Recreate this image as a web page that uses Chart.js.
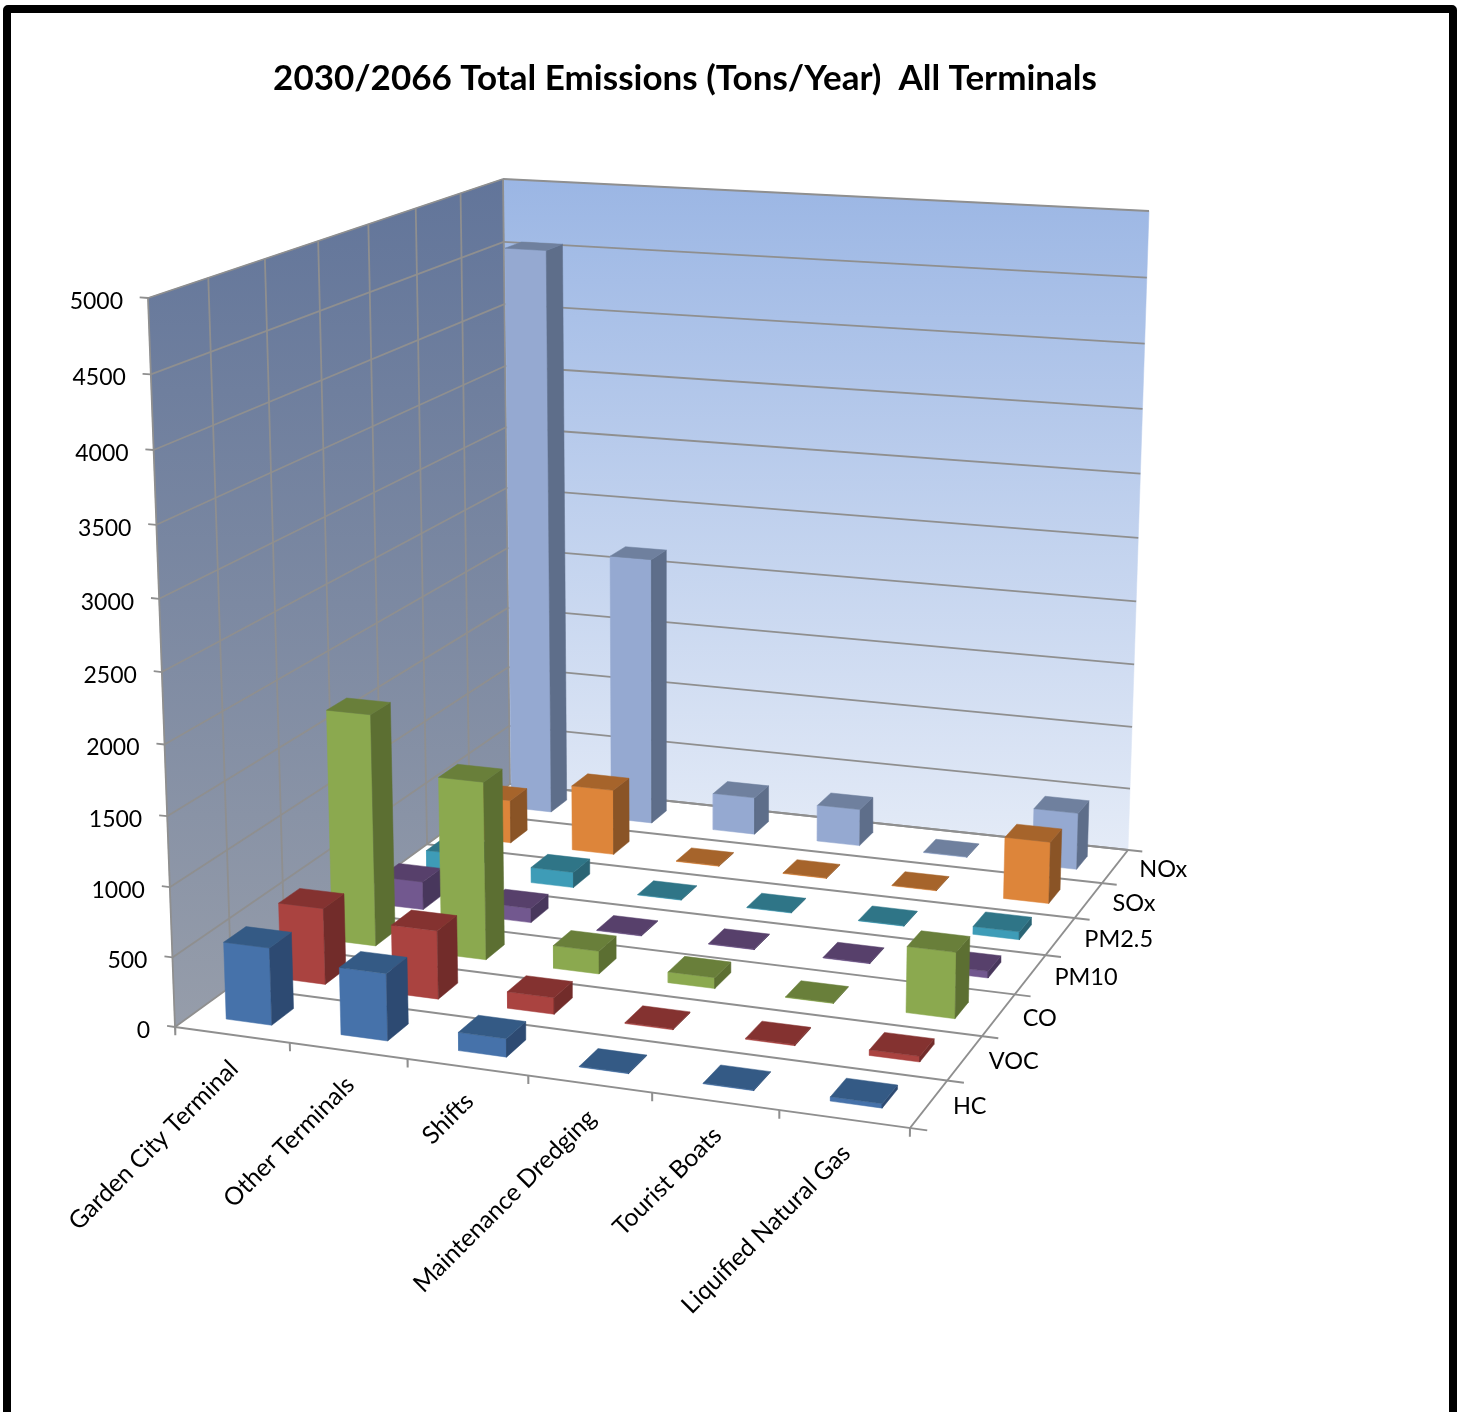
<!DOCTYPE html>
<html lang="en">
<head>
  <meta charset="UTF-8" />
  <title>2030/2066 Total Emissions</title>
  <script src="https://cdn.jsdelivr.net/npm/chart.js"></script>
  <style>
    html, body { margin: 0; padding: 0; background: #fff; overflow: hidden; }
    #wrap { position: relative; width: 1465px; height: 1412px; overflow: hidden; }
    #frame {
      position: absolute; left: 3px; top: 5px; width: 1438px; height: 1500px;
      border: 8px solid #000; border-radius: 5px; pointer-events: none;
    }
    canvas { display: block; }
  </style>
</head>
<body>
  <div id="wrap">
    <canvas id="chart" width="1465" height="1412"></canvas>
    <div id="frame"></div>
  </div>

  <script>
    // ── data ───────────────────────────────────────────────
    const categories = ['Garden City Terminal', 'Other Terminals', 'Shifts', 'Maintenance Dredging', 'Tourist Boats', 'Liquified Natural Gas'];
    const pollutants = ['HC', 'VOC', 'CO', 'PM10', 'PM2.5', 'SOx', 'NOx'];
    const valueTicks = [0, 500, 1000, 1500, 2000, 2500, 3000, 3500, 4000, 4500, 5000];

    const hc   = [555, 480, 130, 5, 5, 30];
    const voc  = [560, 500, 120, 8, 8, 40];
    const co   = [1735, 1325, 170, 80, 5, 480];
    const pm10 = [215, 110, 5, 5, 5, 50];
    const pm25 = [160, 120, 5, 5, 5, 60];
    const sox  = [345, 520, 5, 5, 5, 480];
    const nox  = [4550, 2160, 300, 295, 5, 450];
    const seriesValues = [hc, voc, co, pm10, pm25, sox, nox];

    // front, side, top
    const seriesColors = [
      ['#4672AA', '#2D4A72', '#345A85'],
      ['#AA4340', '#722C2A', '#843230'],
      ['#8BA94F', '#5C6F32', '#697F3A'],
      ['#72588F', '#48375C', '#57406B'],
      ['#3E9CB7', '#2A6474', '#2F7587'],
      ['#DD853A', '#8A5426', '#A6642B'],
      ['#95A9D1', '#5E6E8A', '#6F809E']
    ];

    const FONT = 'Lato, "Open Sans", sans-serif';
    const LINE = '#8f8f8f';
    const BAR_SIZE = 0.4;      // gap width 150%

    // ── projection: picture of the plot box corners → 3D camera ──
    const nCat = categories.length, nDepth = pollutants.length, valueMax = 5000;
    const floorFL = [175, 1027], floorFR = [910, 1128], floorBR = [1128, 850], floorBL = [510, 784];
    const topFL = [148, 298], topBL = [503, 179], topBR = [1149, 211];

    const camera = (() => {
      const [x0, y0] = floorFL, [x1, y1] = floorFR, [x2, y2] = floorBR, [x3, y3] = floorBL;
      const dx1 = x1 - x2, dx2 = x3 - x2, sx = x0 - x1 + x2 - x3;
      const dy1 = y1 - y2, dy2 = y3 - y2, sy = y0 - y1 + y2 - y3;
      const den = dx1 * dy2 - dx2 * dy1;
      const g = (sx * dy2 - dx2 * sy) / den, h = (dx1 * sy - sx * dy1) / den;
      const a = x1 - x0 + g * x1, b = x3 - x0 + h * x3, d = y1 - y0 + g * y1, e = y3 - y0 + h * y3;

      // vertical column from the three known top corners, small lean terms so they land exactly
      const rx = (p, u, v) => p[0] * (g * u + h * v + 1) - (a * u + b * v + x0);
      const ry = (p, u, v) => p[1] * (g * u + h * v + 1) - (d * u + e * v + y0);
      const k = (rx(topFL, 0, 0) - rx(topBR, 1, 1)) / (topBR[0] - topFL[0]);
      const xFL = rx(topFL, 0, 0) + topFL[0] * k, xBL = rx(topBL, 0, 1) + topBL[0] * k, xBR = rx(topBR, 1, 1) + topBR[0] * k;
      const yFL = ry(topFL, 0, 0) + topFL[1] * k, yBL = ry(topBL, 0, 1) + topBL[1] * k, yBR = ry(topBR, 1, 1) + topBR[1] * k;
      return {
        a, b, c: x0, d, e, f: y0, g, h, k,
        i: xFL, iv: xBL - xFL, iu: xBR - xBL,
        j: yFL, jv: yBL - yFL, ju: yBR - yBL
      };
    })();

    // cat in category units, depth in series units, value in tons
    function project(cat, depth, value) {
      const u = cat / nCat, v = depth / nDepth, z = value / valueMax, m = camera;
      const w = m.g * u + m.h * v + m.k * z + 1;
      return {
        x: (m.a * u + m.b * v + (m.i + m.iu * u + m.iv * v) * z + m.c) / w,
        y: (m.d * u + m.e * v + (m.j + m.ju * u + m.jv * v) * z + m.f) / w
      };
    }

    // ── every shape is a small scatter dataset drawn by Chart.js ──
    const layers = [];
    function poly(points, fillColor) {
      layers.push({
        data: [...points, points[0]], showLine: true, fill: 'shape', tension: 0,
        backgroundColor: fillColor, borderColor: fillColor, borderWidth: 0.5, pointRadius: 0, clip: false
      });
    }
    function line(from, to, width) {
      layers.push({
        data: [from, to], showLine: true, fill: false, tension: 0,
        borderColor: LINE, borderWidth: width || 1.8, pointRadius: 0, clip: false
      });
    }

    const canvas = document.getElementById('chart');
    const ctx2d = canvas.getContext('2d');
    const backGrad = ctx2d.createLinearGradient(0, 180, 0, 850);
    backGrad.addColorStop(0, '#9BB6E4');
    backGrad.addColorStop(1, '#E4EBF7');
    const sideGrad = ctx2d.createLinearGradient(0, 180, 0, 1027);
    sideGrad.addColorStop(0, '#62759A');
    sideGrad.addColorStop(1, '#969DAA');

    // walls
    poly([project(0, nDepth, 0), project(nCat, nDepth, 0), project(nCat, nDepth, valueMax), project(0, nDepth, valueMax)], backGrad);
    poly([project(0, 0, 0), project(0, nDepth, 0), project(0, nDepth, valueMax), project(0, 0, valueMax)], sideGrad);

    // gridlines
    valueTicks.forEach(t => {
      line(project(-0.07, 0, t), project(0, 0, t));
      line(project(0, 0, t), project(0, nDepth, t));
      line(project(0, nDepth, t), project(nCat, nDepth, t));
    });
    for (let d = 1; d < nDepth; d++) line(project(0, d, 0), project(0, d, valueMax));
    line(project(0, 0, 0), project(0, 0, valueMax));
    line(project(0, nDepth, 0), project(0, nDepth, valueMax));

    // floor lines, axes and their ticks
    for (let d = 0; d <= nDepth; d++) line(project(0, d, 0), project(nCat + 0.13, d, 0), 2);
    line(project(nCat, 0, 0), project(nCat, nDepth, 0), 2);
    for (let c = 0; c <= nCat; c++) line(project(c, 0, 0), project(c, 0, -60), 2);

    // bars, back row first
    for (let s = nDepth - 1; s >= 0; s--) {
      const [front, side, top] = seriesColors[s];
      seriesValues[s].forEach((val, c) => {
        const u0 = c + (1 - BAR_SIZE) / 2, u1 = u0 + BAR_SIZE;
        const v0 = s + (1 - BAR_SIZE) / 2, v1 = v0 + BAR_SIZE;
        poly([project(u0, v0, 0), project(u1, v0, 0), project(u1, v0, val), project(u0, v0, val)], front);
        poly([project(u1, v0, 0), project(u1, v1, 0), project(u1, v1, val), project(u1, v0, val)], side);
        poly([project(u0, v0, val), project(u1, v0, val), project(u1, v1, val), project(u0, v1, val)], top);
      });
    }

    // ── text ───────────────────────────────────────────────
    const textPlugin = {
      id: 'textLabels',
      afterDraw(chart) {
        const c = chart.ctx;
        c.save();
        c.fillStyle = '#000';

        c.font = 'bold 35px ' + FONT;
        c.textAlign = 'center';
        c.textBaseline = 'middle';
        c.fillText('2030/2066 Total Emissions (Tons/Year)  All Terminals', 685, 79);

        c.font = '23px ' + FONT;
        c.textAlign = 'right';
        valueTicks.forEach(t => {
          const p = project(0, 0, t);
          c.fillText(String(t), p.x - 25, p.y + 3.5);
        });

        c.font = '23.5px ' + FONT;
        c.textAlign = 'left';
        pollutants.forEach((name, d) => {
          const p = project(nCat, d + 0.5, 0);
          c.fillText(name, p.x + 24, p.y + 3);
        });

        c.font = '24.7px ' + FONT;
        c.textAlign = 'right';
        categories.forEach((name, i) => {
          const p = project(i + 0.5, 0, 0);
          c.save();
          c.translate(p.x + 2, p.y + 30);
          c.rotate(-Math.PI / 4);
          c.fillText(name, 0, 0);
          c.restore();
        });
        c.restore();
      }
    };

    new Chart(canvas, {
      type: 'scatter',
      data: { datasets: layers.slice().reverse() },
      options: {
        responsive: false,
        animation: false,
        events: [],
        layout: { padding: 0 },
        plugins: { legend: { display: false }, tooltip: { enabled: false }, title: { display: false } },
        scales: {
          x: { type: 'linear', min: 0, max: 1465, display: false },
          y: { type: 'linear', min: 0, max: 1412, reverse: true, display: false }
        }
      },
      plugins: [textPlugin]
    });
  </script>
</body>
</html>
